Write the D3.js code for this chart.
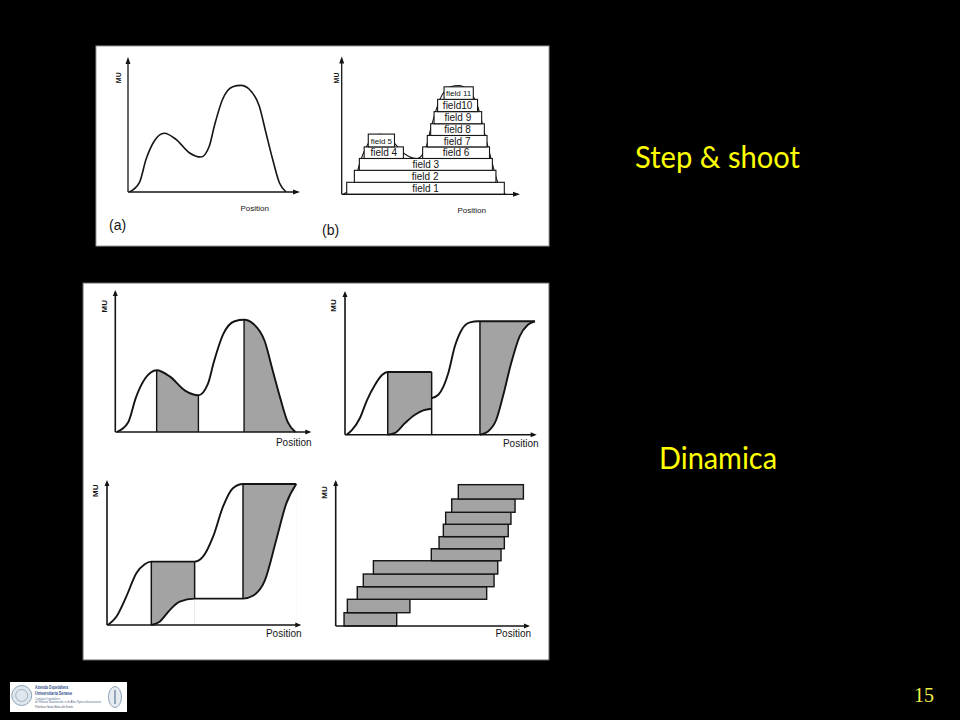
<!DOCTYPE html>
<html><head><meta charset="utf-8">
<script src="https://cdn.jsdelivr.net/npm/d3@7"></script>
<style>body{margin:0;background:#000}svg{display:block}</style>
</head><body>
<script>
// ---------------- DATA (position 0-100, MU 0-100 per sub-plot) ----------------
const titles = ["Step & shoot", "Dinamica"];
const pageNumber = "15";
const axisLabels = {y: "MU", x: "Position"};
const panelTags = ["(a)", "(b)"];

// intensity profile (a), reused in (b) and in the first dynamic sketch
const profile = [[0.8,0],[6.6,6.9],[10.5,24.2],[15.3,37.8],[21.1,43.5],[27.9,39.0],[35.6,29.1],[42.4,25.9],
  [47.3,34.1],[50.2,48.9],[55.0,68.7],[60.9,78.0],[65.7,79.0],[70.5,76.1],[76.3,63.7],[80.2,43.9],[84.1,24.2],[88.0,6.9],[91.9,0]];

// step & shoot fields (b)
const fieldNames = ["field 1","field 2","field 3","field 4","field 5","field 6","field 7","field 8","field 9","field10","field 11"];
const fieldStart = [2.8,7.1,9.9,12.6,14.9,45.4,48.0,49.9,51.8,53.8,57.4];
const fieldEnd   = [91.2,86.5,84.5,34.6,29.6,82.9,81.5,80.0,78.5,76.2,73.8];
const fieldBase  = [0,8.7,17.4,26.0,34.4,26.0,34.4,42.7,51.2,60.0,68.9];
const fieldTop   = [8.7,17.4,26.0,34.4,43.7,34.4,42.7,51.2,60.0,68.9,78.0];

// dynamic sketch 1: shaded parts of the profile
const s1Shade = [[21.1,42.4],[65.7,100]];
const s1Edges = [[21.1,0,43.5],[42.4,0,25.9],[65.7,0,79.0]];

// dynamic sketch 2: leaf trajectories
const s2Lead = [
  [[0.9,0],[3.7,3.3],[7.8,11.6],[11.5,24.1],[15.6,34.6],[19.3,41.5],[22.3,43.6],[45.2,43.6]],
  [[45.2,25.5],[48.7,27.8],[53.9,42.9],[57.3,61.5],[60.9,73.1],[65.2,78.2],[69.5,78.9],[99.1,78.9]]
];
const s2Trail = [
  [[22.3,0],[26.1,1.2],[31.3,8.1],[36.5,13.9],[40.8,17.0],[45.2,18.1]],
  [[70.4,0],[74.6,2.3],[78.9,10.4],[82.4,26.7],[86.7,49.9],[91.1,68.5],[95.4,76.5],[99.1,78.9]]
];
const s2Shade = [[22.3,45.2],[70.4,99.1]];
const s2Edges = [[22.3,0,43.6],[45.2,0,43.6],[70.4,0,78.9]];

// dynamic sketch 3
const s3Lead = [
  [[0.5,0],[4.8,5.7],[9.9,19.5],[15.1,35.7],[19.4,41.9],[22.8,43.7],[45.1,43.7],[49.4,47.1],[54.6,60.9],[59.7,81.6],[64.8,94.3],[70.0,97.2],[97.4,97.2]]
];
const s3Trail = [
  [[22.8,0],[27.1,2.3],[32.3,10.3],[37.4,16.1],[45.1,18.2],[70.0,18.2],[75.1,20.2],[81.2,30.6],[87.1,58.6],[92.3,83.9],[97.4,97.2]]
];
const s3Shade = [[22.8,45.1],[70.0,97.4]];
const s3Edges = [[22.8,0,43.7],[45.1,18.2,43.7],[70.0,18.2,97.2]];

// dynamic sketch 4: discretised segments
const barStart = [4.3,6.0,11.1,14.2,19.4,49.2,53.2,55.4,56.6,59.7,63.1];
const barEnd   = [31.4,38.2,77.7,81.5,83.4,85.1,86.8,88.8,90.2,92.3,96.6];
const barMU0   = [0,9.1,18.3,26.9,35.6,44.7,52.9,61.2,69.7,77.9,87.0];
const barMU1   = [9.1,18.3,26.9,35.6,44.7,52.9,61.2,69.7,77.9,87.0,96.8];

const logoLines = ["Azienda Ospedaliera","Universitaria Senese","Comitato Ospedaliero","di Rilievo Nazionale e di Alta Specializzazione","Policlinico Santa Maria alle Scotte"];

// ---------------- DRAWING ----------------
const GRAY = "#a3a3a3", INK = "#141414", FONT = "Liberation Sans, Arial, sans-serif";
const svg = d3.select("body").append("svg").attr("width",960).attr("height",720);
svg.append("rect").attr("width",960).attr("height",720).attr("fill","#000");
const defs = svg.append("defs");

svg.append("rect").attr("x",96).attr("y",46).attr("width",453).attr("height",200).attr("fill","#fff").attr("stroke","#9a9a9a");
svg.append("rect").attr("x",83).attr("y",283).attr("width",466).attr("height",377).attr("fill","#fff").attr("stroke","#666");

const CURVE = d3.curveMonotoneX;
function frame(ox,oy,xe,yt){ return {x:d3.scaleLinear([0,100],[ox,xe]), y:d3.scaleLinear([0,100],[oy,yt])}; }

function drawAxes(g,f,sw,al,aw){
  const x0=f.x(0), x1=f.x(100), y0=f.y(0), y1=f.y(100);
  g.append("line").attr("x1",x0).attr("y1",y0).attr("x2",x0).attr("y2",y1+2).attr("stroke",INK).attr("stroke-width",sw);
  g.append("line").attr("x1",x0).attr("y1",y0).attr("x2",x1-2).attr("y2",y0).attr("stroke",INK).attr("stroke-width",sw);
  g.append("path").attr("d",`M${x0},${y1}L${x0-aw/2},${y1+al}L${x0+aw/2},${y1+al}Z`).attr("fill",INK);
  g.append("path").attr("d",`M${x1},${y0}L${x1-al},${y0-aw/2}L${x1-al},${y0+aw/2}Z`).attr("fill",INK);
}
function muLabel(g,cx,cy,size){
  g.append("text").attr("transform",`translate(${cx},${cy}) rotate(-90)`).attr("text-anchor","middle")
    .attr("dominant-baseline","central").attr("font-family",FONT).attr("font-weight","bold").attr("font-size",size).attr("fill",INK).text(axisLabels.y);
}
function posLabel(g,xr,yb,size){
  g.append("text").attr("x",xr).attr("y",yb).attr("text-anchor","end").attr("font-family",FONT).attr("font-size",size).attr("fill",INK).text(axisLabels.x);
}

// ---- (a)
const fa = frame(128,192,300,57);
const ga = svg.append("g");
ga.append("path").attr("d", d3.line().x(d=>fa.x(d[0])).y(d=>fa.y(d[1])).curve(CURVE)(profile))
  .attr("fill","none").attr("stroke",INK).attr("stroke-width",1.6);
drawAxes(ga,fa,1.3,7,5);
muLabel(ga,118.5,77.7,7);
posLabel(ga,269,211,8);
ga.append("text").attr("x",109).attr("y",230).attr("font-family",FONT).attr("font-size",14).attr("fill",INK).text(panelTags[0]);

// ---- (b)
const fb = frame(341.7,194.3,520,56.5);
const gb = svg.append("g");
gb.append("path").attr("d", d3.line().x(d=>fb.x(d[0])).y(d=>fb.y(d[1])).curve(CURVE)(profile))
  .attr("fill","none").attr("stroke",INK).attr("stroke-width",1.1);
const fields = fieldNames.map((n,i)=>({n, x0:fieldStart[i], x1:fieldEnd[i], m0:fieldBase[i], m1:fieldTop[i]}));
const fg = gb.selectAll("g.field").data(fields).join("g");
fg.append("rect").attr("x",d=>fb.x(d.x0)).attr("y",d=>fb.y(d.m1)).attr("width",d=>fb.x(d.x1)-fb.x(d.x0))
  .attr("height",d=>fb.y(d.m0)-fb.y(d.m1)).attr("fill","#fff").attr("stroke",INK).attr("stroke-width",1.1);
fg.append("text").attr("x",d=>(fb.x(d.x0)+fb.x(d.x1))/2).attr("y",d=>(fb.y(d.m0)+fb.y(d.m1))/2+3.4)
  .attr("text-anchor","middle").attr("font-family",FONT)
  .attr("font-size",d=>(fb.x(d.x1)-fb.x(d.x0))<35?8:10).attr("fill",INK).text(d=>d.n);
drawAxes(gb,fb,1.3,7,5);
muLabel(gb,336,78,7);
posLabel(gb,486,212.5,8);
gb.append("text").attr("x",322).attr("y",235).attr("font-family",FONT).attr("font-size",14).attr("fill",INK).text(panelTags[1]);

// ---- dynamic sketch 1
const f1 = frame(115.3,432,311.3,290);
const g1 = svg.append("g");
const area1 = d3.area().x(d=>f1.x(d[0])).y0(f1.y(0)).y1(d=>f1.y(d[1])).curve(CURVE);
defs.append("clipPath").attr("id","cp1").append("path").attr("d",area1(profile));
g1.append("g").attr("clip-path","url(#cp1)").selectAll("rect").data(s1Shade).join("rect")
  .attr("x",d=>f1.x(d[0])).attr("width",d=>f1.x(d[1])-f1.x(d[0])).attr("y",f1.y(100)).attr("height",f1.y(0)-f1.y(100)).attr("fill",GRAY);
g1.append("path").attr("d", d3.line().x(d=>f1.x(d[0])).y(d=>f1.y(d[1])).curve(CURVE)(profile))
  .attr("fill","none").attr("stroke",INK).attr("stroke-width",1.9);
g1.selectAll("line.e").data(s1Edges).join("line").attr("x1",d=>f1.x(d[0])).attr("x2",d=>f1.x(d[0]))
  .attr("y1",d=>f1.y(d[1])).attr("y2",d=>f1.y(d[2])).attr("stroke",INK).attr("stroke-width",1.4);
drawAxes(g1,f1,1.6,6,5);
muLabel(g1,104.2,306.3,8);
posLabel(g1,311.5,445.5,10);

// ---- dynamic sketches 2 and 3
function leafPanel(f, lead, trail, shade, edges, id){
  const g = svg.append("g");
  const cp = defs.append("clipPath").attr("id",id);
  shade.forEach(s=>cp.append("rect").attr("x",f.x(s[0])).attr("width",f.x(s[1])-f.x(s[0])).attr("y",f.y(100)).attr("height",f.y(0)-f.y(100)));
  const ar = d3.area().x(d=>f.x(d[0])).y0(f.y(0)).y1(d=>f.y(d[1])).curve(d3.curveMonotoneX);
  const ln = d3.line().x(d=>f.x(d[0])).y(d=>f.y(d[1])).curve(d3.curveMonotoneX);
  const sg = g.append("g").attr("clip-path",`url(#${id})`);
  sg.selectAll("path.u").data(lead).join("path").attr("d",ar).attr("fill",GRAY);
  sg.selectAll("path.l").data(trail).join("path").attr("d",ar).attr("fill","#fff");
  g.selectAll("path.lead").data(lead.concat(trail)).join("path").attr("d",ln).attr("fill","none").attr("stroke",INK).attr("stroke-width",1.9);
  g.selectAll("line.e").data(edges).join("line").attr("x1",d=>f.x(d[0])).attr("x2",d=>f.x(d[0]))
    .attr("y1",d=>f.y(d[1])).attr("y2",d=>f.y(d[2])).attr("stroke",INK).attr("stroke-width",1.5);
  drawAxes(g,f,1.6,6,5);
  return g;
}
const f2 = frame(345,434.7,536.7,291);
const g2 = leafPanel(f2, s2Lead, s2Trail, s2Shade, s2Edges, "cp2");
muLabel(g2,333.8,305.5,8);
posLabel(g2,538.5,446.5,10);

const f3 = frame(107,625,301.3,480);
const g3 = leafPanel(f3, s3Lead, s3Trail, s3Shade, s3Edges, "cp3");
muLabel(g3,95.2,490.8,8);
posLabel(g3,301.5,636.7,10);

// ---- dynamic sketch 4
const f4 = frame(335.7,626,530,480);
const g4 = svg.append("g");
const bars = barStart.map((s,i)=>({x0:s, x1:barEnd[i], m0:barMU0[i], m1:barMU1[i]}));
g4.selectAll("rect").data(bars).join("rect").attr("x",d=>f4.x(d.x0)).attr("y",d=>f4.y(d.m1))
  .attr("width",d=>f4.x(d.x1)-f4.x(d.x0)).attr("height",d=>f4.y(d.m0)-f4.y(d.m1))
  .attr("fill",GRAY).attr("stroke",INK).attr("stroke-width",1.4);
drawAxes(g4,f4,1.6,6,5);
muLabel(g4,324.7,492.5,8);
posLabel(g4,531,637.3,10);

// ---- titles
svg.append("text").attr("x",635).attr("y",168).attr("font-family","Lato, sans-serif").attr("font-size",30)
  .attr("textLength",165).attr("lengthAdjust","spacingAndGlyphs").attr("fill","#ffff00").text(titles[0]);
svg.append("text").attr("x",659).attr("y",468.5).attr("font-family","Lato, sans-serif").attr("font-size",30)
  .attr("textLength",118).attr("lengthAdjust","spacingAndGlyphs").attr("fill","#ffff00").text(titles[1]);
svg.append("text").attr("x",914).attr("y",702).attr("font-family","Liberation Serif, Times New Roman, serif").attr("font-size",20)
  .attr("fill","#f0f04a").text(pageNumber);

// ---- logo
const lg = svg.append("g");
lg.append("rect").attr("x",10).attr("y",682).attr("width",117).attr("height",30).attr("fill","#fff");
lg.append("circle").attr("cx",21.7).attr("cy",695.5).attr("r",10).attr("fill","#dfe6ec").attr("stroke","#8ea3b8").attr("stroke-width",1);
lg.append("circle").attr("cx",21.7).attr("cy",695.5).attr("r",6).attr("fill","none").attr("stroke","#9fb2c4").attr("stroke-width",1);
lg.append("ellipse").attr("cx",115).attr("cy",697).attr("rx",6.5).attr("ry",10.5).attr("fill","#e6ebf0").attr("stroke","#8ea3b8").attr("stroke-width",1);
lg.append("line").attr("x1",115).attr("x2",115).attr("y1",690).attr("y2",704).attr("stroke","#7890a8").attr("stroke-width",1.5);
const lx = 35, ly = [689,694.7,699.8,703,708.2], ls = [5.2,5.2,3.6,3.2,3.4], lw = [33,37,25,66,38], lc = ["#2d4f86","#2d4f86","#5a6f93","#5a6f93","#3d4d66"];
logoLines.forEach((t,i)=>lg.append("text").attr("x",lx).attr("y",ly[i]).attr("font-family",FONT).attr("font-size",ls[i])
  .attr("font-weight",i<2?"bold":"normal").attr("textLength",lw[i]).attr("lengthAdjust","spacingAndGlyphs").attr("fill",lc[i]).text(t));
</script>
</body></html>
